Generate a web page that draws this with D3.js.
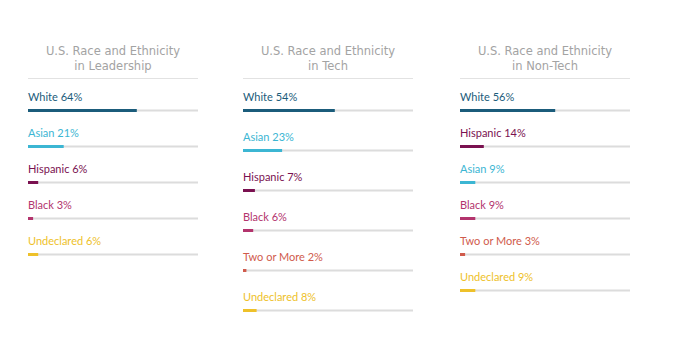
<!DOCTYPE html>
<html>
<head>
<meta charset="utf-8">
<script src="https://cdn.jsdelivr.net/npm/d3@7"></script>
<style>
  body { margin: 0; background: #fff; }
  svg { display: block; }
</style>
</head>
<body>
<svg width="675" height="340"></svg>
<script>
// group data: one set of arrays per panel
var leadershipCats = ["White", "Asian", "Hispanic", "Black", "Undeclared"];
var leadershipVals = [64, 21, 6, 3, 6];

var techCats = ["White", "Asian", "Hispanic", "Black", "Two or More", "Undeclared"];
var techVals = [54, 23, 7, 6, 2, 8];

var nonTechCats = ["White", "Hispanic", "Asian", "Black", "Two or More", "Undeclared"];
var nonTechVals = [56, 14, 9, 9, 3, 9];

var titles = [
  ["U.S. Race and Ethnicity", "in Leadership"],
  ["U.S. Race and Ethnicity", "in Tech"],
  ["U.S. Race and Ethnicity", "in Non-Tech"]
];

var colors = {
  "White": "#1b5c7b",
  "Asian": "#3cb6d3",
  "Hispanic": "#7a1150",
  "Black": "#b3346d",
  "Two or More": "#d05b4c",
  "Undeclared": "#eec12a"
};

var panels = [
  { x: 28,  rowStep: 36, cats: leadershipCats, vals: leadershipVals, title: titles[0] },
  { x: 243, rowStep: 40, cats: techCats,       vals: techVals,       title: titles[1] },
  { x: 460, rowStep: 36, cats: nonTechCats,    vals: nonTechVals,    title: titles[2] }
];

var trackWidth = 170;
var svg = d3.select("svg");

var x = d3.scaleLinear().domain([0, 100]).range([0, trackWidth]);

panels.forEach(function(p) {
  var g = svg.append("g").attr("transform", "translate(" + p.x + ",0)");

  g.append("text")
    .attr("x", trackWidth / 2)
    .attr("text-anchor", "middle")
    .attr("font-family", "DejaVu Sans, sans-serif")
    .attr("font-size", 11.5)
    .attr("fill", "#a3a3a3")
    .selectAll("tspan")
    .data(p.title)
    .enter().append("tspan")
    .attr("x", trackWidth / 2)
    .attr("y", function(d, i) { return 55 + i * 15; })
    .text(function(d) { return d; });

  g.append("line")
    .attr("x1", 0).attr("x2", trackWidth)
    .attr("y1", 78.5).attr("y2", 78.5)
    .attr("stroke", "#e2e2e2")
    .attr("stroke-width", 1);

  var y = d3.scalePoint()
    .domain(p.cats)
    .range([110.5, 110.5 + p.rowStep * (p.cats.length - 1)]);

  var rows = g.selectAll(".row")
    .data(p.cats.map(function(c, i) { return { cat: c, val: p.vals[i] }; }))
    .enter().append("g")
    .attr("class", "row")
    .attr("transform", function(d) { return "translate(0," + y(d.cat) + ")"; });

  rows.append("rect")
    .attr("x", 0)
    .attr("y", -1)
    .attr("width", trackWidth)
    .attr("height", 2)
    .attr("fill", "#dcdcdc");

  rows.append("rect")
    .attr("x", 0)
    .attr("y", -1.5)
    .attr("width", function(d) { return x(d.val); })
    .attr("height", 3)
    .attr("fill", function(d) { return colors[d.cat]; });

  rows.append("text")
    .attr("x", 0)
    .attr("y", -9.5)
    .attr("font-family", "Lato, sans-serif")
    .attr("font-size", 11)
    .attr("fill", function(d) { return colors[d.cat]; })
    .text(function(d) { return d.cat + " " + d.val + "%"; });
});
</script>
</body>
</html>
